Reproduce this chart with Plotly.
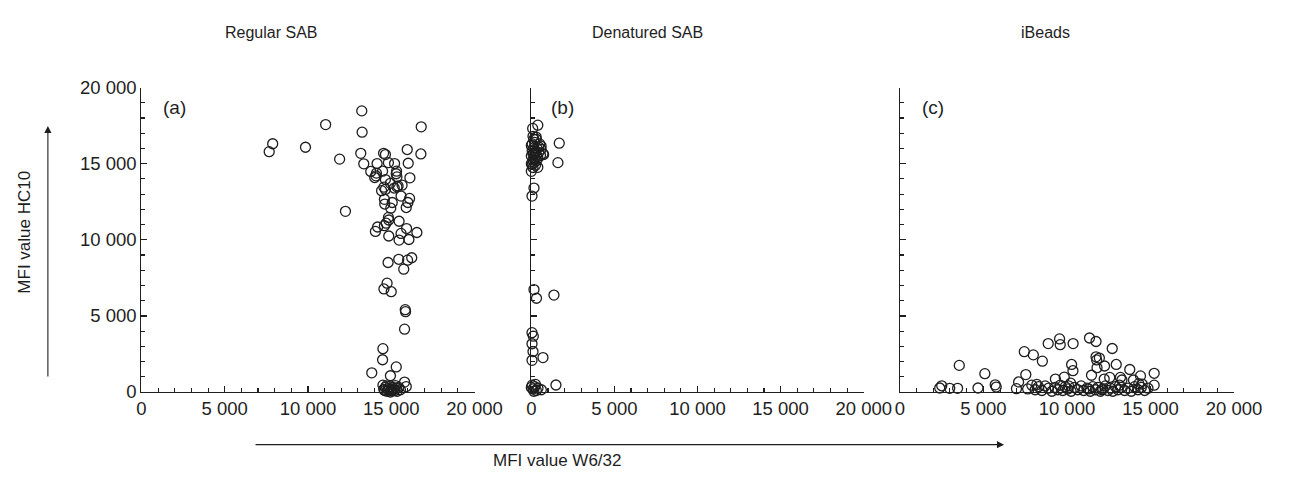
import plotly.graph_objects as go

# ---------------- data ----------------
panel_titles = ["Regular SAB", "Denatured SAB", "iBeads"]
panel_tags = ["(a)", "(b)", "(c)"]
tick_vals = [0, 5000, 10000, 15000, 20000]
tick_text = ["0", "5 000", "10 000", "15 000", "20 000"]
x_title = "MFI value W6/32"
y_title = "MFI value HC10"

a_x = [13230, 11060, 16800, 13250, 7880, 7670, 9850, 15960, 16780, 13170, 14540, 14650,
       11900, 13350, 14150, 14830, 15200, 16020, 13770, 14110, 14010, 14080, 14480, 15320,
       15300, 15340, 14650, 16120, 14950, 14560, 14420, 14650, 15180, 15410, 15650, 15340,
       15590, 16100, 14590, 14610, 15060, 16000, 15900, 14970, 12250, 14830, 14850, 14690,
       15470, 14180, 14050, 14590, 15920, 16540, 14850, 15590, 15470, 16060, 15450, 15980,
       16230, 14810, 15750, 14750, 14560, 15000, 15840, 15860, 15800, 14500, 14480, 15300,
       13830, 14950, 15800, 15900,
       14500, 14650, 14800, 14900, 15000, 15100, 15200, 15300, 14600, 14750, 14950, 15050,
       14550, 15150, 15350, 14850, 15450, 15550, 14700, 15250]
a_y = [18470, 17570, 17420, 17070, 16310, 15790, 16080, 15930, 15640, 15680, 15680, 15600,
       15300, 14990, 15010, 15070, 15010, 15030, 14490, 14380, 14090, 14200, 14510, 14510,
       14340, 14130, 13960, 14070, 13710, 13460, 13230, 13310, 13400, 13540, 13590, 13480,
       12870, 12720, 12660, 12350, 12450, 12450, 12120, 12080, 11870, 11470, 11300, 11090,
       11220, 10840, 10550, 10930, 10740, 10480, 10250, 10420, 9980, 10020, 8720, 8660,
       8820, 8510, 8070, 7150, 6770, 6590, 5410, 5280, 4130, 2850, 2120, 1650,
       1260, 1070, 650, 360,
       450, 300, 200, 350, 150, 300, 100, 250, 100, 50, 0, 80,
       180, 200, 50, 120, 300, 150, 400, 420]

b_x = [390, 80, 1680, 1600, 160, 40, 160, 310, 1360, 40, 120, 40, 100, -20, 40, 700, 1480,
       0, 100, 200, -100, 300, 50, 400, -50, 150, 600, 250,
       -150, 100, 300, -50, 200, 500, 0, -200, 150, 350, 590, -100, 50, 250, 450, -150,
       100, 300, 550, 0, -200, 200, 400, -100, 100, 300, -50, 150, -150, 50, 250, -100,
       100, -50, 0, 200, -50, 50, 350, 0, -150, 150, 700, 450, 290, 585, 740, 390, -40]
b_y = [17530, 17320, 16350, 15070, 13400, 12870, 6730, 6160, 6370, 3900, 3670, 3170, 2660,
       2350, 2080, 2260, 460,
       300, 200, 350, 150, 100, 450, 250, 0, 50, 150, 500,
       16700, 16800, 16600, 16500, 16400, 16300, 16200, 16100, 16050, 16000, 15950, 15900,
       15850, 15800, 15750, 15700, 15650, 15600, 15550, 15500, 15450, 15400, 15350, 15300,
       15250, 15200, 15150, 15100, 15000, 14950, 14900, 14800, 14750, 14600, 14500, 15700,
       16000, 16300, 15450, 15000, 15250, 16600, 15650, 16100, 16750, 16160, 15600, 14760,
       14340]

c_x = [3560, 5090, 2510, 2390, 2990, 3460, 4680, 5710, 5770, 6980, 7110, 7540, 7450, 7990,
       8530, 8880, 9560, 9600, 10370, 10280, 10360, 11350, 11740, 12710, 11740, 11780, 11940,
       12250, 11800, 12950, 13760, 14400, 15220, 11470, 13200, 13290, 12560, 12230, 9310,
       9840, 10220, 13980, 14500, 15220,
       7650, 7900, 8100, 8300, 8500, 8700, 8900, 9100, 9300, 9450, 9600, 9750, 9900, 10050,
       10250, 10450, 10650, 10850, 11000, 11200, 11400, 11550, 11700, 11850, 12000, 12150,
       12300, 12450, 12600, 12750, 12900, 13050, 13250, 13450, 13650, 13850, 14050, 14250,
       14450, 14650, 14850, 12100, 11300, 10100, 8200, 13150, 14300]
c_y = [1750, 1205, 410, 264, 240, 240, 264, 472, 327, 220, 660, 1145, 2650, 2440,
       2025, 3180, 3490, 3110, 3180, 1810, 1400, 3550, 3320, 2860, 2310, 2110, 2230,
       1710, 1600, 1810, 1480, 1060, 1230, 1100, 960, 790, 960, 850, 850,
       975, 580, 790, 520, 450,
       200, 450, 150, 350, 100, 400, 250, 50, 300, 150, 450, 100, 350, 200,
       50, 300, 150, 400, 100, 250, 50, 350, 150, 300, 50, 200,
       400, 100, 250, 50, 350, 150, 300, 100, 250, 50, 350, 150,
       300, 100, 250, 150, 200, 400, 500, 450, 550]

# ---------------- figure ----------------
W, H = 1304, 492
FONT = "Liberation Sans, Arial, Helvetica, sans-serif"
INK = "#1e1e1e"

x_doms = [(140, 481.7), (540, 881), (918, 1261)]
y_dom = [1 - 398 / H, 1 - 80 / H]

fig = go.Figure()
series = [(a_x, a_y), (b_x, b_y), (c_x, c_y)]
for i, (xs, ys) in enumerate(series):
    sfx = "" if i == 0 else str(i + 1)
    fig.add_trace(go.Scatter(
        x=xs, y=ys, mode="markers", xaxis="x" + sfx, yaxis="y" + sfx,
        cliponaxis=False, showlegend=False, hoverinfo="skip",
        marker=dict(symbol="circle-open", size=10, color=INK, line=dict(width=1.3, color=INK)),
    ))

layout = dict(
    width=W, height=H, margin=dict(l=0, r=0, t=0, b=0),
    paper_bgcolor="white", plot_bgcolor="white",
    font=dict(family=FONT, color=INK, size=16),
    showlegend=False,
)
for i in range(3):
    sfx = "" if i == 0 else str(i + 1)
    d0, d1 = x_doms[i]
    layout["xaxis" + sfx] = dict(
        domain=[d0 / W, d1 / W], range=[0, 20000], anchor="y" + sfx,
        showline=True, linecolor=INK, linewidth=1.2, showgrid=False, zeroline=False,
        ticks="inside", ticklen=6, tickwidth=1.2, tickcolor=INK,
        tickvals=tick_vals, ticktext=tick_text,
        tickfont=dict(size=18.5, family=FONT, color=INK),
        minor=dict(dtick=1000, ticks="inside", ticklen=4, tickwidth=1.1, tickcolor=INK, showgrid=False),
    )
    layout["yaxis" + sfx] = dict(
        domain=y_dom, range=[0, 20000], anchor="x" + sfx,
        showline=True, linecolor=INK, linewidth=1.2, showgrid=False, zeroline=False,
        ticks="inside", ticklen=6, tickwidth=1.2, tickcolor=INK,
        tickvals=tick_vals, ticktext=tick_text, showticklabels=(i == 0),
        tickfont=dict(size=18.5, family=FONT, color=INK),
        minor=dict(dtick=1000, ticks="inside", ticklen=4, tickwidth=1.1, tickcolor=INK, showgrid=False),
    )
fig.update_layout(**layout)

title_px = [273, 659, 1068]
tag_px = [174, 572, 952]
anns = []
for i in range(3):
    anns.append(dict(text=panel_titles[i], x=title_px[i] / W, y=1 - 22 / H, xref="paper", yref="paper",
                     showarrow=False, xanchor="center", yanchor="middle", font=dict(size=16)))
    anns.append(dict(text=panel_tags[i], x=tag_px[i] / W, y=1 - 101 / H, xref="paper", yref="paper",
                     showarrow=False, xanchor="center", yanchor="middle", font=dict(size=19)))
anns.append(dict(text=x_title, x=567 / W, y=1 - 470 / H, xref="paper", yref="paper",
                 showarrow=False, xanchor="center", yanchor="middle", font=dict(size=17)))
anns.append(dict(text=y_title, x=20 / W, y=1 - 231 / H, xref="paper", yref="paper", textangle=-90,
                 showarrow=False, xanchor="center", yanchor="middle", font=dict(size=17)))
# arrows
anns.append(dict(text="", x=1025 / W, y=1 - 453 / H, xref="paper", yref="paper",
                 showarrow=True, ax=-750, ay=0, arrowhead=2, arrowsize=1.3, arrowwidth=1.1, arrowcolor=INK))
anns.append(dict(text="", x=44 / W, y=1 - 120 / H, xref="paper", yref="paper",
                 showarrow=True, ax=0, ay=252, arrowhead=2, arrowsize=1.3, arrowwidth=1.1, arrowcolor=INK))
fig.update_layout(annotations=anns)

reset_css = ("document.documentElement.style.margin='0';document.documentElement.style.padding='0';"
             "document.body.style.margin='0';document.body.style.padding='0';"
             "document.body.style.overflow='hidden';document.documentElement.style.overflow='hidden';")
fig.write_html("out.html", post_script=reset_css, config={"displayModeBar": False, "staticPlot": True})
